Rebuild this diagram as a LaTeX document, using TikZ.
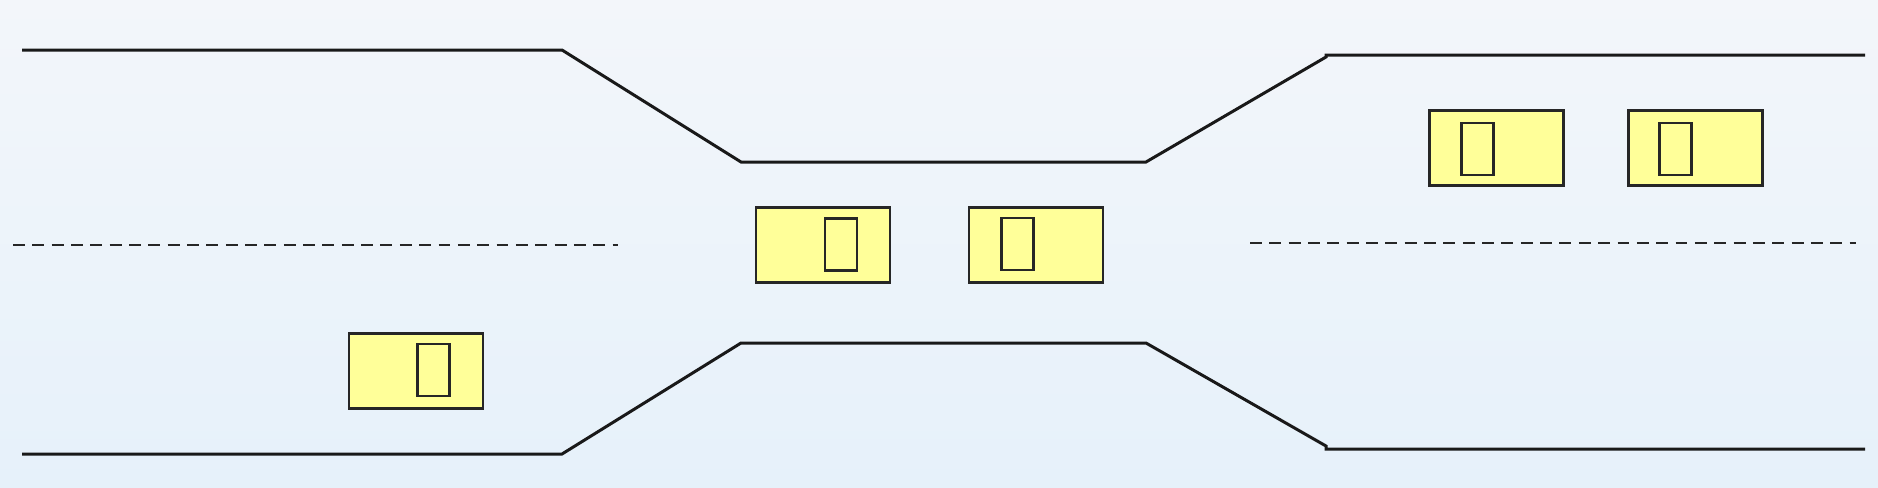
\documentclass[tikz,border=0pt]{standalone}
\usepackage{tikz}
\usetikzlibrary{backgrounds,calc}
\definecolor{bgtop}{RGB}{243,246,250}
\definecolor{bgbottom}{RGB}{230,241,250}
\definecolor{carfill}{RGB}{255,255,153}
\tikzset{
  road/.style={line width=0.85pt, black!90},
  lane/.style={line width=0.75pt, black!85, dash pattern=on 3.4pt off 2.1pt},
  car/.style={draw=black!85, fill=carfill, line width=0.75pt, inner sep=0pt,
    minimum width=1.34cm, minimum height=0.75cm},
  glyph/.style={draw=black!85, line width=0.75pt, inner sep=0pt,
    minimum width=0.32cm, minimum height=0.52cm}
}
\begin{document}
\begin{tikzpicture}[x=0.01cm,y=-0.01cm]
\shade[top color=bgtop,bottom color=bgbottom] (0,0) rectangle (1878,487);
\useasboundingbox (0,0) rectangle (1878,487);
% road edges
\draw[road] (22,50) -- (562,50) -- (741,162) -- (1146,162) -- (1326,57) -- (1326,55) -- (1865,55);
\draw[road] (22,454) -- (562,454) -- (741,343) -- (1146,343) -- (1326,446) -- (1326,449) -- (1865,449);
% lane markings
\draw[lane] (13,245) -- (618,245);
\draw[lane] (1250,243) -- (1856,243);
% cars
\node[car] (car1) at (416,371) {};
\node[glyph] (car1g) at (433.5,370) {};
\node[car] (car2) at (823,245) {};
\node[glyph] (car2g) at (841,244.5) {};
\node[car] (car3) at (1036,245) {};
\node[glyph] (car3g) at (1017.5,244) {};
\node[car] (car4) at (1496.5,148) {};
\node[glyph] (car4g) at (1477.5,149) {};
\node[car] (car5) at (1695.5,148) {};
\node[glyph] (car5g) at (1675.5,149) {};
\end{tikzpicture}
\end{document}
